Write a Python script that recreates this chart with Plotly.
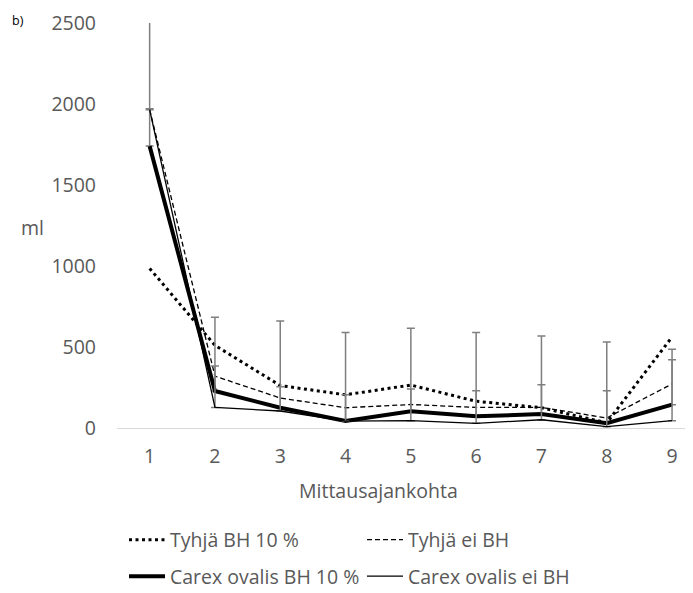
import plotly.graph_objects as go

# ---- data ----
categories = [1, 2, 3, 4, 5, 6, 7, 8, 9]
tyhja_bh10 = [985, 510, 262, 205, 265, 165, 125, 32, 562]
tyhja_ei_bh = [1965, 320, 185, 125, 145, 127, 127, 62, 272]
carex_bh10 = [1740, 228, 125, 43, 103, 72, 86, 30, 144]
carex_ei_bh = [1965, 127, 105, 43, 45, 29, 51, 8, 45]
carex_bh10_err = [230, 154, 129, 162, 137, 158, 181, 200, 277]
carex_ei_bh_err = [750, 556, 556, 546, 571, 560, 517, 523, 441]
y_ticks = [0, 500, 1000, 1500, 2000, 2500]

W, H = 693, 593
OFF = 8  # page body margin offset in the browser
FONT = "Open Sans"
GREY = "#595959"
ERR = "#7f7f7f"
FS = 19.5

fig = go.Figure()

fig.add_trace(go.Scatter(
    x=categories, y=tyhja_bh10, name="Tyhjä BH 10 %", mode="lines",
    line=dict(color="black", width=3, dash="3px,3.5px"), legend="legend"))
fig.add_trace(go.Scatter(
    x=categories, y=tyhja_ei_bh, name="Tyhjä ei BH", mode="lines",
    line=dict(color="black", width=1.3, dash="5px,3px"), legend="legend"))
fig.add_trace(go.Scatter(
    x=categories, y=carex_bh10, name="Carex ovalis BH 10 %", mode="lines",
    line=dict(color="black", width=4),
    error_y=dict(type="data", symmetric=False, array=carex_bh10_err,
                 arrayminus=[0] * len(categories), color=ERR, thickness=1.5, width=4),
    legend="legend2"))
fig.add_trace(go.Scatter(
    x=categories, y=carex_ei_bh, name="Carex ovalis ei BH", mode="lines",
    line=dict(color="black", width=1.3),
    error_y=dict(type="data", symmetric=False, array=carex_ei_bh_err,
                 arrayminus=[0] * len(categories), color=ERR, thickness=1.5, width=4),
    legend="legend2"))

left = 117 - OFF
top = 23 - OFF
bottom = H - (428.5 - OFF)
right = 0
pw = W - left - right
ph = H - top - bottom
px_per_cat = 65.3
xmax = 0.5 + pw / px_per_cat


def px(xr):
    return (xr - OFF - left) / pw


def py(yr):
    return 1 - (yr - OFF - top) / ph


legend_common = dict(
    orientation="h", xref="container", yref="container",
    xanchor="left", yanchor="middle",
    font=dict(family=FONT, size=FS, color=GREY),
    entrywidth=187, entrywidthmode="pixels",
    bgcolor="rgba(0,0,0,0)", tracegroupgap=0, itemwidth=36,
)

fig.update_layout(
    width=W, height=H,
    margin=dict(l=left, r=right, t=top, b=bottom, pad=0, autoexpand=False),
    paper_bgcolor="white", plot_bgcolor="white",
    font=dict(family=FONT, size=FS, color=GREY),
    showlegend=True,
    legend=dict(x=116 / W, y=1 - (540 - OFF) / H, **legend_common),
    legend2=dict(x=116 / W, y=1 - (576.5 - OFF) / H, **legend_common),
    xaxis=dict(
        range=[0.5, xmax], tickmode="array", tickvals=categories,
        ticktext=[str(c) for c in categories],
        showgrid=False, zeroline=False, showline=True,
        linecolor="#d9d9d9", linewidth=1.3, ticks="",
        ticklabelstandoff=10,
        tickfont=dict(family=FONT, size=FS, color=GREY),
    ),
    yaxis=dict(
        range=[0, 2500], tickmode="array", tickvals=y_ticks,
        ticktext=[str(t) for t in y_ticks],
        showgrid=False, zeroline=False, showline=False, ticks="",
        ticklabelstandoff=20,
        tickfont=dict(family=FONT, size=FS, color=GREY),
    ),
    annotations=[
        dict(text="ml", xref="paper", yref="paper", x=px(32), y=py(228),
             xanchor="center", yanchor="middle",
             showarrow=False, font=dict(family=FONT, size=FS, color=GREY)),
        dict(text="Mittausajankohta", xref="paper", yref="paper",
             x=px(378), y=py(491),
             xanchor="center", yanchor="middle", showarrow=False,
             font=dict(family=FONT, size=FS, color=GREY)),
        dict(text="b)", xref="paper", yref="paper",
             x=px(18), y=py(20),
             xanchor="center", yanchor="middle", showarrow=False,
             font=dict(family=FONT, size=12.5, color="black")),
    ],
)

fig.write_html("out.html")
